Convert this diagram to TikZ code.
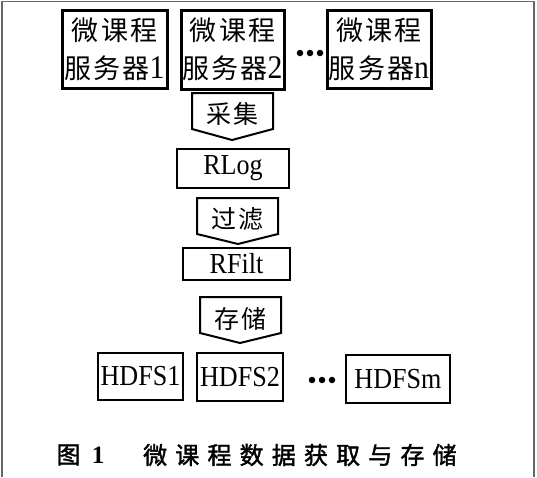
\documentclass[tikz,border=0pt]{standalone}
\usepackage{fontspec}
\setmainfont{Liberation Serif}
\newfontfamily\lat[FakeStretch=0.9]{Liberation Serif}
\newfontfamily\cjk[LetterSpace=8]{Noto Sans CJK SC}
\newfontfamily\capcjk[LetterSpace=34,FakeBold=1.6]{Noto Sans CJK SC}
\newcommand{\srvnum}[1]{{\lat\fontsize{33}{38}\selectfont #1}}
\begin{document}
\begin{tikzpicture}[x=1pt,y=-1pt,
  srv/.style={draw=black,line width=3pt,inner sep=0pt,align=center,
    font=\cjk\fontsize{27}{38}\selectfont},
  bx/.style={draw=black,line width=2pt,inner sep=0pt,
    font=\lat\fontsize{29}{32}\selectfont},
  pent/.style={draw=black,line width=2pt,line join=miter},
  lbl/.style={inner sep=0pt,font=\cjk\fontsize{25}{30}\selectfont},
  dot/.style={fill=black,circle,inner sep=0pt,minimum size=6.5pt},
  frame/.style={draw=black!60,line width=1.6pt}]
\useasboundingbox (0,0) rectangle (537,477);
% scan frame
\draw[frame] (2,477) -- (2,1.5) -- (534,1.5) -- (534,477);
% servers
\node[srv,minimum width=105pt,minimum height=78pt] (s1) at (114.5,49) {微课程\\服务器\srvnum{1}};
\node[srv,minimum width=103pt,minimum height=79pt] (s2) at (232.5,49.5) {微课程\\服务器\srvnum{2}};
\node[srv,minimum width=104pt,minimum height=78pt] (sn) at (379,49) {微课程\\服务器\srvnum{n}};
\node[dot] (d1) at (300,53) {};
\node[dot] (d2) at (310,53) {};
\node[dot] (d3) at (320,53) {};
% collect
\coordinate (c1) at (192,93); \coordinate (c2) at (273,93);
\coordinate (c3) at (273,129); \coordinate (c4) at (232,140);
\coordinate (c5) at (192,129);
\draw[pent] (c1) -- (c2) -- (c3) -- (c4) -- (c5) -- cycle;
\node[lbl] (cj) at (232.5,114) {采集};
% RLog
\node[bx,minimum width=112pt,minimum height=39pt] (rlog) at (233,168.5) {RLog};
% filter
\coordinate (f1) at (197,198); \coordinate (f2) at (278,198);
\coordinate (f3) at (278,234); \coordinate (f4) at (238,244);
\coordinate (f5) at (197,234);
\draw[pent] (f1) -- (f2) -- (f3) -- (f4) -- (f5) -- cycle;
\node[lbl] (gl) at (237.5,219) {过滤};
% RFilt
\node[bx,minimum width=107pt,minimum height=32pt] (rfilt) at (236.5,264) {RFilt};
% store
\coordinate (t1) at (200,297); \coordinate (t2) at (281,297);
\coordinate (t3) at (281,333); \coordinate (t4) at (240,343);
\coordinate (t5) at (200,333);
\draw[pent] (t1) -- (t2) -- (t3) -- (t4) -- (t5) -- cycle;
\node[lbl] (cc) at (240.5,319) {存储};
% HDFS
\node[bx,minimum width=85pt,minimum height=47pt] (h1) at (140.5,376.5) {HDFS1};
\node[bx,minimum width=86pt,minimum height=48pt] (h2) at (240,377) {HDFS2};
\node[dot] (e1) at (312,380) {};
\node[dot] (e2) at (322,380) {};
\node[dot] (e3) at (332,380) {};
\node[bx,minimum width=104pt,minimum height=48pt] (hm) at (398,379) {HDFSm};
% caption
\node[inner sep=0pt,font=\capcjk\fontsize{24}{28}\selectfont] (fig) at (68.5,455) {图};
\node[inner sep=0pt,font=\bfseries\fontsize{25}{28}\selectfont] (num) at (98,455) {1};
\node[inner sep=0pt,anchor=west,font=\capcjk\fontsize{24}{28}\selectfont] (cap) at (143,455) {微课程数据获取与存储};
\end{tikzpicture}
\end{document}
